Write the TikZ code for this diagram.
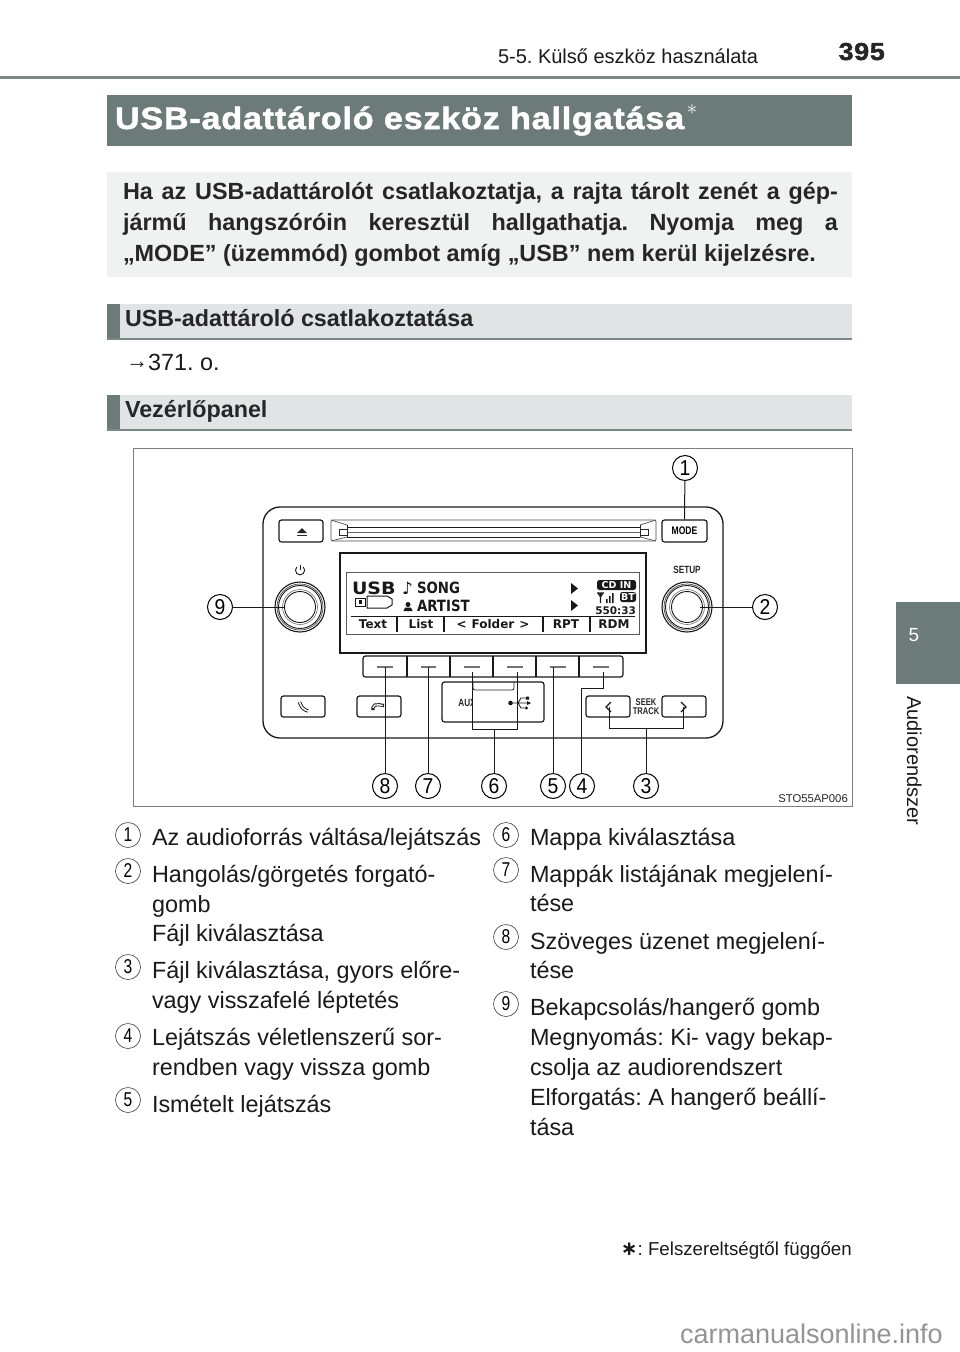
\documentclass[tikz,border=0pt]{standalone}
\usepackage{fontspec}
\setmainfont{Liberation Sans}
\newfontfamily\dvb{DejaVu Sans}
\newfontfamily\heavy[LetterSpace=2.6,FakeStretch=1.1,FakeBold=1.6]{Liberation Sans Bold}
\newfontfamily\narrow[FakeStretch=.78]{Liberation Sans}
\newfontfamily\semi[FakeStretch=.9]{Liberation Sans}
\usetikzlibrary{calc}
\definecolor{band}{HTML}{6C7B79}
\definecolor{rulec}{HTML}{7A8987}
\definecolor{lightbar}{HTML}{E0E4E4}
\definecolor{pale}{HTML}{F0F1F1}
\definecolor{ink}{HTML}{1A1A1A}
\definecolor{frameg}{HTML}{7F7F7F}
\newcommand{\fsz}[1]{\fontsize{#1}{#1}\selectfont}
\tikzset{
  x=1pt,y=-1pt,
  txt/.style={anchor=base west,inner sep=0pt,outer sep=0pt,text=ink},
  listtxt/.style={txt,font=\fsz{23.4}},
  heading/.style={txt,font=\fsz{23.3}\bfseries,text=black!85},
  intro/.style={txt,font=\fsz{23.4}\bfseries,text=black!85},
  callout/.style={circle,draw=black,line width=1pt,fill=white,minimum size=25pt,inner sep=0pt,font=\semi\fsz{21.5},text=black},
  itemno/.style={circle,draw=black!75,line width=.6pt,minimum size=25pt,inner sep=0pt,font=\narrow\fsz{20},text=black},
  leader/.style={draw=black!90,line width=1pt},
  panelline/.style={draw=black!90,line width=1.2pt},
  btn/.style={draw=black!90,line width=1.2pt,rounded corners=2.5pt,fill=white},
  lcd/.style={inner sep=0pt,outer sep=0pt,font=\dvb\bfseries\fsz{12},text=black!90},
  lcdbig/.style={lcd,anchor=base west,font=\dvb\bfseries\fsz{15.5}\addfontfeature{FakeStretch=.86}},
  panellabel/.style={inner sep=0pt,font=\narrow\bfseries\fsz{10.5},text=black!85},
}
\begin{document}
\frenchspacing
\begin{tikzpicture}
\useasboundingbox (0,0) rectangle (960,1352);
\fill[white] (0,0) rectangle (960,1352);
% page head
\fill[rulec] (0,76) rectangle (960,79);
\node[txt,font=\fsz{20}] (chap) at (498,63) {5-5. Külső eszköz használata};
\node[anchor=base east,inner sep=0pt,font=\heavy\fsz{24.5},text=black!85] (pg) at (885,60) {395};
% title
\fill[band] (107,95) rectangle (852,146);
\node[txt,font=\heavy\fsz{31},text=white] (title) at (115,129) {USB-adattároló eszköz hallgatása};
\node[anchor=center,inner sep=0pt,font=\fsz{22},text=white] (star) at (692,110) {$\ast$};
% intro
\fill[pale] (107,172) rectangle (852,277);
\node[intro] (i1) at (123,199) {\makebox[715pt][s]{Ha az USB-adattárolót csatlakoztatja, a rajta tárolt zenét a gép-}};
\node[intro] (i2) at (123,230) {\makebox[715pt][s]{jármű hangszóróin keresztül hallgathatja. Nyomja meg a}};
\node[intro] (i3) at (123,261) {„MODE” (üzemmód) gombot amíg „USB” nem kerül kijelzésre.};
% heading bars
\fill[lightbar] (107,304) rectangle (852,339);
\fill[band] (107,304) rectangle (120,339);
\fill[rulec] (107,338) rectangle (852,340);
\node[heading] (h1) at (125,326) {USB-adattároló csatlakoztatása};
\node[txt,font=\fsz{23.4}] (ref) at (126,370) {\raisebox{1.5pt}{\fsz{22}→}371. o.};
\fill[lightbar] (107,395) rectangle (852,430);
\fill[band] (107,395) rectangle (120,430);
\fill[rulec] (107,429) rectangle (852,431);
\node[heading] (h2) at (125,417) {Vezérlőpanel};
% side tab
\fill[band] (896,602) rectangle (960,684);
\node[anchor=center,inner sep=0pt,font=\fsz{19},text=white] (tab) at (914,635) {5};
\node[anchor=base west,rotate=-90,inner sep=0pt,font=\fsz{20},text=ink] (side) at (907,696) {Audiorendszer};
% figure frame
\draw[frameg,line width=1pt] (133,448) rectangle (852,806);
% radio body
\draw[panelline,line width=1.3pt,rounded corners=17pt] (263,507) rectangle (723,738);
% eject
\draw[btn] (279,520) rectangle (323,542);
\fill[black!85] (302,528) -- (307,533) -- (297,533) -- cycle;
\fill[black!85] (297,534.5) rectangle (307,536);
% mode
\node[btn,minimum width=45pt,minimum height=22pt,inner sep=0pt,font=\narrow\bfseries\fsz{11}] (mode) at (684.5,531) {MODE};
% slot
\draw[black!70,line width=.7pt,rounded corners=1.5pt] (331,520) rectangle (656,541);
\draw[black!85,line width=.8pt] (347,525) -- (347,537);
\draw[black!85,line width=.8pt] (640,525) -- (640,537);
\draw[black!90,line width=1pt] (347,527.5) -- (640,527.5);
\draw[black!90,line width=1pt] (347,537) -- (640,537);
\draw[black!60,line width=.5pt] (347,532) -- (640,532);
\draw[black!70,line width=.7pt] (331,520) -- (347,525) (331,541) -- (347,537) (656,520) -- (640,525) (656,541) -- (640,537);
\draw[black!85,line width=.8pt] (339,529) rectangle (347,535) (640,529) rectangle (648,535);
% display
\draw[black!90,line width=1.5pt] (340,553) rectangle (646,653);
\draw[black!65,line width=.8pt] (346,572.5) rectangle (639,634);
\draw[black!90,line width=1pt] (351,616) -- (635,616);
\draw[black!90,line width=1.4pt] (397,616) -- (397,632) (444,616) -- (444,632) (543,616) -- (543,632) (590,616) -- (590,632);
\node[lcd,anchor=base west,font=\dvb\bfseries\fsz{17}\addfontfeature{FakeStretch=1.12}] (usb) at (352,594) {USB};
\node[lcd,anchor=base west,font=\dvb\fsz{17}] (note) at (402,594) {♪};
\node[lcdbig] (song) at (417,593) {SONG};
\node[lcdbig] (artist) at (417,611) {ARTIST};
\fill[black!90] (408,604.5) circle (2.5pt);
\fill[black!90] (403.5,611) -- (405,607.5) -- (411,607.5) -- (412.5,611) -- cycle;
\draw[black!90,line width=1pt] (355,598) rectangle (365,606);
\fill[black!90] (358.5,600) rectangle (361.5,604);
\draw[black!90,line width=1pt] (367,596) -- (387,596) -- (392,599) -- (392,605) -- (387,608) -- (367,608) -- cycle;
\fill[black!90] (571,583) -- (578,588.5) -- (571,594) -- cycle;
\fill[black!90] (571,600) -- (578,605.5) -- (571,611) -- cycle;
\node[lcd] (ltext) at (373,624) {Text};
\node[lcd] (llist) at (421,624) {List};
\node[lcd] (lfolder) at (493,624) {<\hspace{5pt}Folder\hspace{5pt}>};
\node[lcd] (lrpt) at (566,624) {RPT};
\node[lcd] (lrdm) at (614,624) {RDM};
\fill[black!90,rounded corners=2.5pt] (597,580) rectangle (636,590);
\node[lcd,font=\dvb\bfseries\fsz{9.5},text=white] (cdin) at (616.5,585) {CD IN};
\fill[black!90,rounded corners=2.5pt] (620,592) rectangle (636,602);
\node[lcd,font=\dvb\bfseries\fsz{9.5},text=white] (bt) at (628,597) {BT};
\draw[black!90,line width=1.1pt] (597,593) -- (604,593) (598,593) -- (600.5,597) -- (603,593) (600.5,593) -- (600.5,603);
\fill[black!90] (606,599) rectangle (607.5,603) (609,596) rectangle (610.5,603) (612,593) rectangle (613.5,603);
\node[lcd,anchor=base east,font=\dvb\bfseries\fsz{10.5}] (clock) at (636,614) {550:33};
% soft keys
\draw[panelline,rounded corners=2.5pt] (363,656) rectangle (623,677);
\draw[panelline] (407,656) -- (407,677) (450,656) -- (450,677) (493,656) -- (493,677) (536,656) -- (536,677) (579,656) -- (579,677);
\draw[black!55,line width=1.5pt] (377,667) -- (393,667) (421,667) -- (436,667) (464,667) -- (480,667) (507,667) -- (523,667) (550,667) -- (566,667) (593,667) -- (609,667);
% aux
\draw[btn] (442,682) rectangle (544,722);
\draw[black!85,line width=.8pt,rounded corners=2pt] (473,682) -- (473,690) -- (514,690) -- (514,682);
\node[panellabel] (aux) at (467,703) {AUX};
\fill[white] (472.6,695) rectangle (476,712);
\fill[black!90] (510.5,703) circle (2.3pt);
\draw[black!90,line width=.8pt] (512,703) -- (530,703) (518,703) -- (521,698) -- (526,698) (518,703) -- (521,708) -- (525,708);
\fill[black!90] (531,703) -- (527,701) -- (527,705) -- cycle (526,696.5) rectangle (529,699.5);
\fill[black!90] (526.5,708) circle (1.7pt);
% lower buttons
\draw[btn] (281,696) rectangle (325,717);
\draw[black!90,line width=3.4pt,rounded corners=2pt] (299.5,702) -- (301,706) -- (304,709.5) -- (308,711);
\draw[white,line width=1.5pt,rounded corners=2pt] (299.5,702) -- (301,706) -- (304,709.5) -- (308,711);
\draw[btn] (357,696) rectangle (401,717);
\draw[black!90,line width=3.2pt,rounded corners=2pt] (373,710) -- (373,705.5) -- (377,704.5) -- (384,705.5);
\draw[white,line width=1.3pt,rounded corners=2pt] (373,708) -- (373,705.5) -- (377,704.5) -- (383,705.5);
\draw[btn] (586,696) rectangle (630,717);
\draw[btn] (662,696) rectangle (706,717);
\draw[black!90,line width=1.1pt] (611,702) -- (606,707) -- (611,712);
\draw[black!90,line width=1.1pt] (681,702) -- (686,707) -- (681,712);
\node[panellabel,align=center,font=\narrow\bfseries\fsz{9.7}] (seek) at (646,707) {SEEK\\[-.5pt]TRACK};
% knobs
\node[panellabel] (setup) at (687,570) {SETUP};
\draw[black!90,line width=.9pt] (296.8,567) arc[start angle=135,end angle=405,radius=4.6pt];
\draw[black!90,line width=.9pt] (300,564.5) -- (300,570);
\foreach \cx in {300,687}{
  \draw[black!90,line width=1.1pt] (\cx,607) circle (25pt);
  \draw[black!70,line width=.7pt] (\cx,607) circle (23pt);
  \draw[black!90,line width=.9pt] (\cx,607) circle (21.5pt);
  \draw[black!55,line width=.6pt] (\cx,607) circle (17.5pt);
  \draw[black!90,line width=.9pt] (\cx,607) circle (15.5pt);
}
% targets
\coordinate (t2) at (700,607);
\coordinate (t9) at (284,607);
\coordinate (t8) at (385,667);
\coordinate (t7) at (428,667);
\coordinate (t6l) at (472,672);
\coordinate (t6r) at (517,672);
\coordinate (t6j) at (494,729);
\coordinate (t5) at (553,667);
\coordinate (t4a) at (581,688);
\coordinate (t4) at (603,672);
\coordinate (t3l) at (609,707);
\coordinate (t3r) at (683,707);
\coordinate (t3j) at (646,728);
% callouts
\node[callout] (c1) at (685,468) {1};
\node[callout] (c2) at (765,607) {2};
\node[callout] (c3) at (646,786) {3};
\node[callout] (c4) at (582,786) {4};
\node[callout] (c5) at (553,786) {5};
\node[callout] (c6) at (494,786) {6};
\node[callout] (c7) at (428,786) {7};
\node[callout] (c8) at (385,786) {8};
\node[callout] (c9) at (220,607) {9};
\draw[leader] (c1) -- (mode.north);
\draw[leader] (c2) -- (t2);
\draw[leader] (c9) -- (t9);
\draw[leader] (c8) -- (t8);
\draw[leader] (c7) -- (t7);
\draw[leader] (c5) -- (t5);
\draw[leader] (c6) -- (t6j);
\draw[leader] (t6l) -- (t6l |- t6j) -- (t6r |- t6j) -- (t6r);
\draw[leader] (c4.north -| t4a) -- (t4a) -- (t4 |- t4a) -- (t4);
\draw[leader] (c3) -- (t3j);
\draw[leader] (t3l) -- (t3l |- t3j) -- (t3r |- t3j) -- (t3r);
\node[anchor=base east,inner sep=0pt,font=\fsz{11.3},text=black!85] (code) at (848,802) {STO55AP006};
% list left
\node[itemno] (n1) at (128,835) {1};
\node[listtxt] (l1) at (152,845) {Az audioforrás váltása/lejátszás};
\node[itemno] (n2) at (128,871) {2};
\node[listtxt] (l2a) at (152,882) {Hangolás/görgetés forgató-};
\node[listtxt] (l2b) at (152,912) {gomb};
\node[listtxt] (l2c) at (152,941) {Fájl kiválasztása};
\node[itemno] (n3) at (128,967) {3};
\node[listtxt] (l3a) at (152,978) {Fájl kiválasztása, gyors előre-};
\node[listtxt] (l3b) at (152,1008) {vagy visszafelé léptetés};
\node[itemno] (n4) at (128,1036) {4};
\node[listtxt] (l4a) at (152,1045) {Lejátszás véletlenszerű sor-};
\node[listtxt] (l4b) at (152,1075) {rendben vagy vissza gomb};
\node[itemno] (n5) at (128,1100) {5};
\node[listtxt] (l5) at (152,1112) {Ismételt lejátszás};
% list right
\node[itemno] (n6) at (506,835) {6};
\node[listtxt] (r6) at (530,845) {Mappa kiválasztása};
\node[itemno] (n7) at (506,870) {7};
\node[listtxt] (r7a) at (530,882) {Mappák listájának megjelení-};
\node[listtxt] (r7b) at (530,911) {tése};
\node[itemno] (n8) at (506,937) {8};
\node[listtxt] (r8a) at (530,949) {Szöveges üzenet megjelení-};
\node[listtxt] (r8b) at (530,978) {tése};
\node[itemno] (n9) at (506,1004) {9};
\node[listtxt] (r9a) at (530,1015) {Bekapcsolás/hangerő gomb};
\node[listtxt] (r9b) at (530,1045) {Megnyomás: Ki- vagy bekap-};
\node[listtxt] (r9c) at (530,1075) {csolja az audiorendszert};
\node[listtxt] (r9d) at (530,1105) {Elforgatás: A hangerő beállí-};
\node[listtxt] (r9e) at (530,1135) {tása};
% footnote
\node[anchor=base east,inner sep=0pt,font=\fsz{18.7},text=ink] (foot) at (852,1255) {{\dvb\bfseries\fsz{20}∗}: Felszereltségtől függően};
\node[anchor=base east,inner sep=0pt,font=\fsz{27},text=black!42] (mark) at (943,1343) {carmanualsonline.info};
\end{tikzpicture}
\end{document}
